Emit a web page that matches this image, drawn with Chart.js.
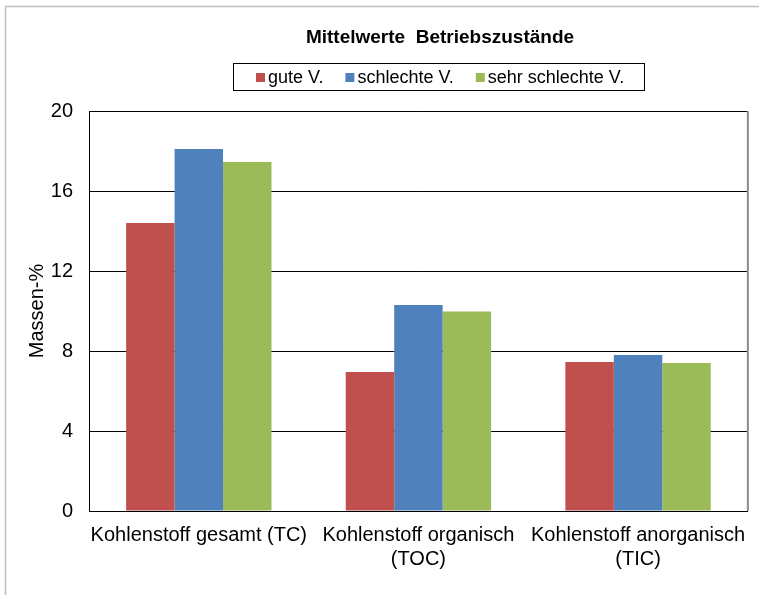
<!DOCTYPE html>
<html>
<head>
<meta charset="utf-8">
<script src="https://cdn.jsdelivr.net/npm/chart.js@4/dist/chart.umd.min.js"></script>
<style>
  html, body { margin: 0; padding: 0; background: #ffffff; }
  #wrap { width: 759px; height: 595px; }
</style>
</head>
<body>
<div id="wrap"><canvas id="c" width="759" height="595"></canvas></div>
<script>
// Carbon fractions (mass-%) per operating condition
const categories = [
  ['Kohlenstoff gesamt (TC)'],
  ['Kohlenstoff organisch', '(TOC)'],
  ['Kohlenstoff anorganisch', '(TIC)']
];
const seriesNames = ['gute V.', 'schlechte V.', 'sehr schlechte V.'];
const guteV = [14.4, 6.95, 7.45];
const schlechteV = [18.1, 10.3, 7.8];
const sehrSchlechteV = [17.45, 9.98, 7.4];
const seriesColors = ['#C0504D', '#4F81BD', '#9BBB59'];
const yTicks = [0, 4, 8, 12, 16, 20];
const chartTitle = 'Mittelwerte  Betriebszustände';
const yTitle = 'Massen-%';

const FONT = '"Liberation Sans", Arial, sans-serif';

// Frame, heading and boxed legend drawn around the plot
const decorations = {
  id: 'decorations',
  beforeDraw(chart) {
    const ctx = chart.ctx;
    ctx.save();
    ctx.strokeStyle = '#bfbfbf';
    ctx.lineWidth = 1.5;
    ctx.strokeRect(5.5, 6.5, 800, 700);
    ctx.restore();
  },
  afterDraw(chart) {
    const ctx = chart.ctx;
    const area = chart.chartArea;
    ctx.save();
    // right edge of plot area
    ctx.strokeStyle = '#8c8c8c';
    ctx.lineWidth = 2;
    ctx.beginPath();
    ctx.moveTo(area.right, area.top);
    ctx.lineTo(area.right, area.bottom);
    ctx.stroke();

    // heading
    ctx.fillStyle = '#000';
    ctx.font = 'bold 19px ' + FONT;
    ctx.textAlign = 'center';
    ctx.textBaseline = 'middle';
    ctx.fillText(chartTitle, 440, 38);

    // legend box
    ctx.strokeStyle = '#000';
    ctx.lineWidth = 1;
    ctx.strokeRect(233.5, 63.5, 411, 27);
    ctx.font = '18px ' + FONT;
    ctx.textAlign = 'left';
    let x = 256;
    chart.data.datasets.forEach((ds) => {
      ctx.fillStyle = ds.backgroundColor;
      ctx.fillRect(x, 73, 9, 9);
      ctx.fillStyle = '#000';
      ctx.fillText(ds.label, x + 12, 78);
      x += 12 + ctx.measureText(ds.label).width + 22;
    });
    ctx.restore();
  }
};

const datasets = [guteV, schlechteV, sehrSchlechteV].map((vals, i) => ({
  label: seriesNames[i],
  data: vals,
  backgroundColor: seriesColors[i],
  borderWidth: 0,
  barPercentage: 1,
  categoryPercentage: 0.662
}));

new Chart(document.getElementById('c'), {
  type: 'bar',
  data: { labels: categories, datasets },
  plugins: [decorations],
  options: {
    responsive: false,
    animation: false,
    devicePixelRatio: 1,
    layout: { padding: { top: 111, right: 11, left: 0, bottom: 0 } },
    plugins: {
      legend: { display: false },
      title: { display: false },
      tooltip: { enabled: false }
    },
    scales: {
      x: {
        grid: { display: false, drawTicks: false },
        border: { color: '#000', width: 1 },
        ticks: {
          color: '#000',
          font: { family: FONT, size: 20 },
          padding: 12,
          maxRotation: 0,
          autoSkip: false
        },
        afterFit(scale) { scale.height = 84; }
      },
      y: {
        min: 0,
        max: 20,
        afterBuildTicks(scale) { scale.ticks = yTicks.map(v => ({ value: v })); },
        grid: { color: '#000', lineWidth: 1, drawTicks: false },
        border: { color: '#000', width: 1 },
        ticks: {
          color: '#000',
          font: { family: FONT, size: 20 },
          padding: 16
        },
        title: {
          display: true,
          text: yTitle,
          color: '#000',
          font: { family: FONT, size: 20 },
          padding: { top: 25, bottom: 0 }
        },
        afterFit(scale) { scale.width = 89; }
      }
    }
  }
});
</script>
</body>
</html>
